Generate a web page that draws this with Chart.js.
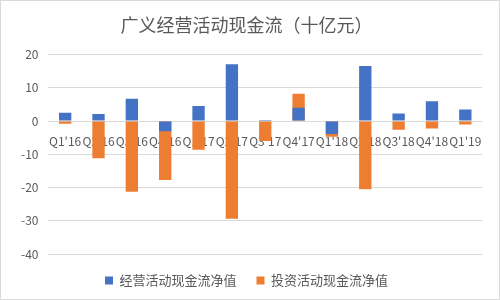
<!DOCTYPE html>
<html>
<head>
<meta charset="utf-8">
<script src="https://cdn.jsdelivr.net/npm/chart.js@4/dist/chart.umd.min.js"></script>
<style>
  html, body { margin: 0; padding: 0; background: #fff; }
  .box { width: 500px; height: 300px; box-sizing: border-box; border: 1px solid #d9d9d9; position: relative; }
</style>
</head>
<body>
<div class="box"><canvas id="chart"></canvas></div>
<script>
// quarters and values (billion yuan)
const quarters = ["Q1'16", "Q2'16", "Q3'16", "Q4'16", "Q1'17", "Q2'17", "Q3'17", "Q4'17", "Q1'18", "Q2'18", "Q3'18", "Q4'18", "Q1'19"];
const operating = [2.5, 2.1, 6.7, -3.1, 4.5, 17.1, 0.3, 4.0, -3.9, 16.6, 2.3, 6.0, 3.5];
const investing = [-0.8, -11.2, -21.3, -17.7, -8.6, -29.4, -6.0, 8.2, -4.7, -20.5, -2.6, -2.2, -1.0];
const yTicks = [20, 10, 0, -10, -20, -30, -40];

const font = "'Noto Sans CJK SC', 'Liberation Sans', sans-serif";
const grey = "#595959";

new Chart(document.getElementById("chart"), {
  type: "bar",
  data: {
    labels: quarters,
    datasets: [
      { label: "经营活动现金流净值", data: operating, backgroundColor: "#4472C4" },
      { label: "投资活动现金流净值", data: investing, backgroundColor: "#ED7D31" }
    ]
  },
  options: {
    responsive: true,
    maintainAspectRatio: false,
    animation: false,
    layout: { padding: { left: 10, right: 17, bottom: 2 } },
    datasets: { bar: { grouped: false, categoryPercentage: 1, barPercentage: 0.37 } },
    scales: {
      x: {
        position: { y: 0 }, // labels sit right under the zero line
        grid: { display: false, drawTicks: false },
        border: { display: false },
        ticks: { color: grey, font: { family: font, size: 12 }, padding: 13, maxRotation: 0, autoSkip: false },
        afterFit: s => { s.height = 0; }
      },
      y: {
        min: -40,
        max: 20,
        grid: { color: "#d9d9d9", drawTicks: false },
        border: { display: false },
        afterBuildTicks: s => { s.ticks = yTicks.map(v => ({ value: v })); },
        ticks: { color: grey, font: { family: font, size: 12 }, padding: 10 }
      }
    },
    plugins: {
      title: {
        display: true,
        text: "广义经营活动现金流（十亿元）",
        color: grey,
        font: { family: font, size: 18, weight: "normal" },
        padding: { top: 13, bottom: 19 }
      },
      legend: {
        position: "bottom",
        labels: { color: grey, font: { family: font, size: 13 }, boxWidth: 8, boxHeight: 8, padding: 20 }
      },
      tooltip: { enabled: false }
    }
  }
});
</script>
</body>
</html>
